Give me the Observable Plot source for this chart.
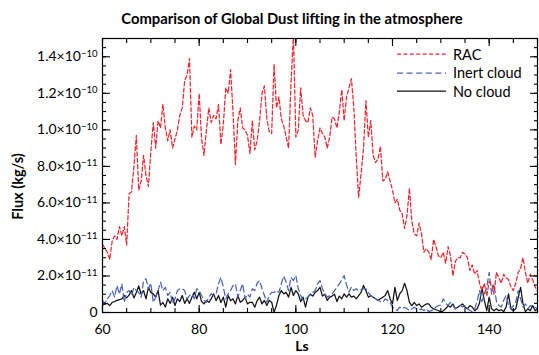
<!DOCTYPE html>
<html>
<head>
<meta charset="utf-8">
<script src="https://cdn.jsdelivr.net/npm/d3@7"></script>
<script src="https://cdn.jsdelivr.net/npm/@observablehq/plot@0.6"></script>
<style>
  html, body { margin: 0; padding: 0; background: #fff; }
  #wrap { position: relative; width: 539px; height: 355px; overflow: hidden; font-family: Lato, "Open Sans", sans-serif; }
  #title { position: absolute; top: 7px; left: 292px; transform: translateX(-50%); white-space: nowrap;
           font-weight: bold; font-size: 14.8px; line-height: 22px; color: #000; }
  #chart { position: absolute; top: 30px; left: 0; }
  #legend { position: absolute; left: 397px; top: 45px; font-size: 14.5px; color: #000; }
  #legend .row { display: flex; align-items: center; height: 18.5px; }
  #legend svg { width: 49px; height: 6px; margin-right: 7px; }
</style>
</head>
<body>
<div id="wrap">
  <div id="title">Comparison of Global Dust lifting in the atmosphere</div>
  <div id="chart"></div>
  <div id="legend"></div>
</div>
<script>
// Ls grid (every 0.5 degree)
const Ls = d3.range(60, 150.25, 0.5);

// Flux values in units of 1e-11 kg/s
const rac = [
  3.75,3.5,3.3,2.9,3.9,4.2,4.0,4.7,4.2,4.7,
  3.7,6.5,6.6,8.0,9.7,6.7,7.2,8.6,7.5,6.9,
  8.8,10.4,9.0,10.5,10.1,11.4,10.1,9.4,10.0,9.0,
  9.5,10.0,10.8,11.2,12.7,13.0,13.9,9.6,10.2,10.0,
  12.0,9.5,8.6,10.0,11.2,10.4,10.8,10.6,11.4,9.2,
  10.3,12.3,12.0,13.3,11.0,8.1,10.5,11.2,10.1,10.0,
  9.7,8.7,10.5,8.9,9.4,10.5,12.0,12.4,10.6,9.9,
  9.8,13.6,11.2,11.8,10.6,10.2,9.6,9.0,12.5,15.2,
  9.6,10.0,12.3,10.8,10.5,10.4,11.2,10.8,8.5,9.4,
  10.1,9.8,9.6,9.0,9.6,10.7,10.6,10.1,11.0,12.2,
  10.5,11.8,12.3,12.8,11.2,8.5,6.3,7.6,9.0,11.6,
  9.6,10.5,8.6,8.2,8.4,9.1,7.2,7.3,7.7,7.2,
  6.7,6.0,6.2,5.6,5.4,4.6,5.3,6.8,5.0,4.3,
  4.2,4.9,4.3,3.3,3.5,3.3,2.9,4.0,3.6,3.1,
  3.0,3.3,2.7,3.6,3.1,2.0,2.8,3.0,3.0,3.3,
  3.2,3.0,2.3,2.6,2.1,2.3,1.6,1.2,1.6,0.9,
  1.7,1.6,1.0,2.2,1.9,1.6,2.1,1.9,1.8,1.4,
  1.2,1.6,2.2,2.4,3.0,2.2,1.6,2.1,1.8,1.4,
  1.2
];
const inertCloud = [
  0.66,0.5,0.75,0.93,1.2,0.84,1.48,1.0,1.57,0.56,
  1.1,1.2,0.93,1.38,1.2,1.1,0.84,1.75,1.84,1.3,
  1.6,0.56,0.84,1.2,1.66,1.2,1.38,0.93,1.1,0.47,
  0.75,1.2,1.3,1.3,1.2,0.75,0.93,1.02,0.75,1.3,
  1.2,0.93,0.66,0.56,0.84,1.02,0.93,1.02,1.57,1.93,
  1.38,0.75,1.02,1.2,1.48,1.57,0.84,1.2,1.57,0.75,
  1.0,0.84,1.3,1.2,1.6,1.75,1.3,0.93,0.56,0.93,
  1.1,1.1,1.2,1.1,1.57,2.0,1.66,1.2,1.93,1.75,
  2.02,1.3,0.93,0.66,0.75,0.84,1.02,1.1,1.2,1.57,
  1.75,1.3,1.02,0.84,0.93,1.02,1.2,1.38,1.57,1.8,
  2.02,1.5,1.11,1.4,1.2,1.3,1.2,1.25,1.3,1.3,
  1.1,0.93,0.84,0.75,0.66,0.6,0.56,0.75,0.66,0.56,
  0.29,0.2,0.11,0.29,0.2,0.29,0.2,0.11,0.2,0.29,
  0.2,0.15,0.2,0.11,0.2,0.05,0.1,0.15,0.3,0.38,
  0.4,0.75,0.5,0.4,0.55,0.4,0.2,0.3,0.38,0.3,
  0.38,0.2,0.11,0.05,0.2,0.6,1.2,0.6,1.0,1.38,
  2.2,1.0,1.57,0.6,0.38,0.3,0.66,0.93,0.4,0.2,
  0.38,0.56,1.2,0.75,0.3,0.47,0.2,0.38,0.3,0.29,
  0.2
];
const noCloud = [
  0.4,0.45,0.5,0.38,0.56,0.6,0.66,0.7,0.75,0.93,
  0.8,0.95,1.2,0.8,1.1,1.45,1.0,1.2,0.75,1.38,
  1.1,1.02,0.84,1.2,0.4,0.55,0.3,0.75,0.5,0.84,
  0.38,0.75,0.6,0.93,0.5,0.75,0.5,0.84,1.1,0.75,
  1.1,0.6,0.47,0.65,0.56,0.75,1.02,0.65,0.93,0.55,
  0.84,0.29,0.93,0.65,0.75,0.47,0.93,0.56,0.66,0.84,
  0.47,0.56,0.56,0.29,0.65,0.84,0.47,0.66,0.38,0.66,
  0.56,0.02,0.4,0.93,1.2,1.02,1.1,0.84,1.38,0.93,
  1.2,1.02,0.6,0.84,0.29,0.84,1.0,0.9,1.1,1.2,
  1.38,0.9,1.0,0.66,0.84,0.9,1.0,0.6,0.9,0.75,
  1.02,0.84,1.02,0.84,0.9,0.75,0.93,1.1,1.48,1.2,
  0.84,0.93,0.84,0.75,0.66,0.75,0.84,0.93,1.2,0.75,
  0.47,1.38,0.66,1.02,1.2,1.6,1.2,0.56,0.38,0.56,
  0.38,0.47,0.29,0.38,0.47,0.47,0.29,0.2,0.15,0.11,
  0.02,0.1,0.2,0.38,0.29,0.47,0.2,0.29,0.38,0.47,
  0.3,0.2,0.38,0.3,0.1,0.2,0.5,1.38,0.66,0.1,
  0.84,0.2,0.1,0.2,0.1,0.15,0.05,0.3,1.02,0.2,
  0.1,0.2,0.8,1.38,0.47,0.05,0.2,0.1,0.38,0.1,
  0.2
];

const seriesNames = ["RAC", "Inert cloud", "No cloud"];
const seriesColors = ["#f2262e", "#4a62b8", "#111111"];
const seriesDash = ["4,2.4", "6,3.6", null];

// ticks
const xMajorTicks = [60, 80, 100, 120, 140];
const xMinorTicks = d3.range(60, 151, 5);
const yMajorTicks = [0, 2e-11, 4e-11, 6e-11, 8e-11, 1.0e-10, 1.2e-10, 1.4e-10];
const yTickLabels = ["0", "2.0×10⁻¹¹", "4.0×10⁻¹¹", "6.0×10⁻¹¹", "8.0×10⁻¹¹", "1.0×10⁻¹⁰", "1.2×10⁻¹⁰", "1.4×10⁻¹⁰"];
const yMinorTicks = d3.range(0, 31).map(i => i * 0.5e-11);

const values = [rac, inertCloud, noCloud];
const tables = values.map((arr, k) => arr.map((v, i) => ({Ls: Ls[i], flux: v * 1e-11, series: seriesNames[k]})));
const yLabelMap = new Map(yMajorTicks.map((t, i) => [t, yTickLabels[i]]));

const tickStyle = {stroke: "#000", strokeWidth: 1.1};

const chart = Plot.plot({
  width: 539,
  height: 325,
  marginLeft: 102,
  marginRight: 2,
  marginTop: 8,
  marginBottom: 43,
  style: {fontFamily: "Lato, 'Open Sans', sans-serif", fontSize: "14px", color: "#000", background: "#fff"},
  x: {domain: [60, 150]},
  y: {domain: [0, 1.5e-10]},
  marks: [
    // series
    ...tables.map((t, k) => Plot.line(t, {
      x: "Ls", y: "flux", stroke: seriesColors[k], strokeWidth: 1.25,
      strokeDasharray: seriesDash[k], clip: true
    })).reverse(),
    // inward ticks: bottom & top
    Plot.axisX(xMinorTicks, {anchor: "bottom", tickSize: 4, dy: -4, tickFormat: () => "", label: null, ...tickStyle}),
    Plot.axisX(xMajorTicks, {anchor: "bottom", tickSize: 7, dy: -7, tickFormat: () => "", label: null, ...tickStyle}),
    Plot.axisX(xMinorTicks, {anchor: "top", tickSize: 4, dy: 4, tickFormat: () => "", label: null, ...tickStyle}),
    Plot.axisX(xMajorTicks, {anchor: "top", tickSize: 7, dy: 7, tickFormat: () => "", label: null, ...tickStyle}),
    // inward ticks: left & right
    Plot.axisY(yMinorTicks, {anchor: "left", tickSize: 4, dx: 4, tickFormat: () => "", label: null, ...tickStyle}),
    Plot.axisY(yMajorTicks, {anchor: "left", tickSize: 8, dx: 8, tickFormat: () => "", label: null, ...tickStyle}),
    Plot.axisY(yMinorTicks, {anchor: "right", tickSize: 4, dx: -4, tickFormat: () => "", label: null, ...tickStyle}),
    Plot.axisY(yMajorTicks, {anchor: "right", tickSize: 8, dx: -8, tickFormat: () => "", label: null, ...tickStyle}),
    // tick labels
    Plot.axisX(xMajorTicks, {anchor: "bottom", tickSize: 0, tickPadding: 12, label: null, fontSize: 14, fill: "#000"}),
    Plot.axisY(yMajorTicks, {anchor: "left", tickSize: 0, tickPadding: 5, label: null, fontSize: 14, fill: "#000",
      tickFormat: d => yLabelMap.get(d), ariaLabel: "y-tick-labels"}),
    // axis titles
    Plot.text(["Ls"], {frameAnchor: "bottom", dx: -18, dy: 34, lineAnchor: "middle", textAnchor: "middle",
      fontWeight: "bold", fontSize: 14, fill: "#000"}),
    Plot.text(["Flux (kg/s)"], {frameAnchor: "left", dx: -84, dy: 11, rotate: -90, lineAnchor: "middle", textAnchor: "middle",
      fontWeight: "bold", fontSize: 14.5, fill: "#000"}),
    Plot.frame({stroke: "#000", strokeWidth: 1.2})
  ]
});
document.getElementById("chart").appendChild(chart);

// render the exponents as raised, smaller text (still real text)
const supMap = {"⁻": "−", "⁰": "0", "¹": "1", "²": "2", "³": "3", "⁴": "4", "⁵": "5", "⁶": "6", "⁷": "7", "⁸": "8", "⁹": "9"};
d3.select(chart).selectAll("text").each(function () {
  const s = this.textContent;
  const m = s.match(/^(.*×10)([⁻⁰¹²³⁴⁵⁶⁷⁸⁹]+)$/);
  if (!m) return;
  const el = d3.select(this);
  el.text(null);
  el.append("tspan").text(m[1]);
  el.append("tspan").attr("dy", "-0.5em").attr("font-size", "9.5px")
    .text([...m[2]].map(c => supMap[c]).join(""));
});

// legend
const legend = d3.select("#legend");
seriesNames.forEach((name, k) => {
  const row = legend.append("div").attr("class", "row");
  const svg = row.append("svg").attr("viewBox", "0 0 49 6");
  svg.append("line").attr("x1", 0).attr("x2", 49).attr("y1", 3).attr("y2", 3)
    .attr("stroke", seriesColors[k]).attr("stroke-width", 1.25)
    .attr("stroke-dasharray", seriesDash[k]);
  row.append("span").text(name);
});
</script>
</body>
</html>
